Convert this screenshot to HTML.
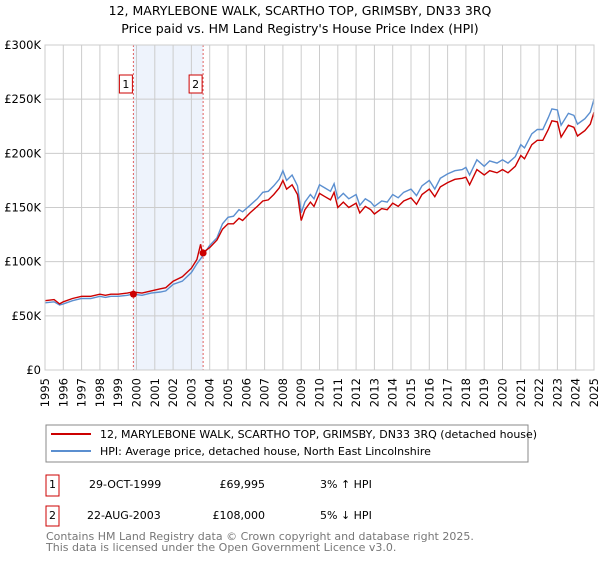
<!DOCTYPE html>
<html><head><meta charset="utf-8"><style>
body{margin:0;background:#fff;font-family:"Liberation Sans","DejaVu Sans",sans-serif;}
svg text{font-family:"DejaVu Sans","Liberation Sans",sans-serif;}
</style></head><body>
<svg id="c" width="600" height="560" xmlns="http://www.w3.org/2000/svg">
<text x="300" y="15" text-anchor="middle" font-size="12.5">12, MARYLEBONE WALK, SCARTHO TOP, GRIMSBY, DN33 3RQ</text>
<text x="300" y="33" text-anchor="middle" font-size="12.5">Price paid vs. HM Land Registry's House Price Index (HPI)</text>
<g id="plot"></g>
<rect x="46" y="425" width="482" height="37" fill="#fff" stroke="#888"/>
<line x1="51" y1="434" x2="91" y2="434" stroke="#cc0000" stroke-width="2"/>
<text x="100" y="438" font-size="11">12, MARYLEBONE WALK, SCARTHO TOP, GRIMSBY, DN33 3RQ (detached house)</text>
<line x1="51" y1="451" x2="91" y2="451" stroke="#5b8fd0" stroke-width="2"/>
<text x="100" y="455" font-size="11">HPI: Average price, detached house, North East Lincolnshire</text>
<g font-size="11">
<rect x="46" y="475" width="13" height="21" fill="none" stroke="#cc0000"/>
<text x="52.5" y="488" text-anchor="middle">1</text>
<text x="89" y="488">29-OCT-1999</text>
<text x="265" y="488" text-anchor="end">£69,995</text>
<text x="320" y="488">3% ↑ HPI</text>
<rect x="46" y="506" width="13" height="20" fill="none" stroke="#cc0000"/>
<text x="52.5" y="519" text-anchor="middle">2</text>
<text x="87" y="519">22-AUG-2003</text>
<text x="265" y="519" text-anchor="end">£108,000</text>
<text x="320" y="519">5% ↓ HPI</text>
</g>
<text x="46" y="540" font-size="11" fill="#777">Contains HM Land Registry data © Crown copyright and database right 2025.</text>
<text x="46" y="551" font-size="11" fill="#777">This data is licensed under the Open Government Licence v3.0.</text>
</svg>
<script>
const hpiT=[1995.0,1995.5,1995.8,1996.0,1996.5,1997,1997.5,1998,1998.3,1998.6,1999,1999.5,1999.8,2000.3,2000.8,2001.3,2001.6,2002,2002.5,2003,2003.3,2003.6,2004,2004.4,2004.7,2005,2005.3,2005.6,2005.8,2006.2,2006.6,2006.9,2007.2,2007.5,2007.8,2008.0,2008.2,2008.5,2008.8,2009.0,2009.2,2009.5,2009.7,2010.0,2010.3,2010.6,2010.8,2011.0,2011.3,2011.6,2012.0,2012.2,2012.5,2012.8,2013.0,2013.4,2013.7,2014.0,2014.3,2014.6,2015.0,2015.3,2015.6,2016.0,2016.3,2016.6,2017.0,2017.4,2017.8,2018.0,2018.2,2018.6,2019.0,2019.3,2019.7,2020.0,2020.3,2020.7,2021.0,2021.2,2021.6,2021.9,2022.2,2022.5,2022.7,2023.0,2023.2,2023.6,2023.9,2024.1,2024.5,2024.8,2025.0];
const hpiV=[62,63,60,61,64,66,66,68,67,68,68,69,70,69,71,72,73,79,82,90,98,105,115,122,135,141,142,148,146,152,158,164,165,170,176,184,175,180,170,145,155,162,158,171,168,165,172,158,163,158,162,152,158,155,151,156,155,162,159,164,167,161,170,175,167,177,181,184,185,187,180,194,188,193,191,194,191,197,208,205,218,222,222,233,241,240,226,237,235,227,232,238,250];
const redT=[1995.0,1995.5,1995.8,1996.0,1996.5,1997,1997.5,1998,1998.3,1998.6,1999,1999.5,1999.8,2000.3,2000.8,2001.3,2001.6,2002,2002.5,2003,2003.3,2003.5,2003.6,2004,2004.4,2004.7,2005,2005.3,2005.6,2005.8,2006.2,2006.6,2006.9,2007.2,2007.5,2007.8,2008.0,2008.2,2008.5,2008.8,2009.0,2009.2,2009.5,2009.7,2010.0,2010.3,2010.6,2010.8,2011.0,2011.3,2011.6,2012.0,2012.2,2012.5,2012.8,2013.0,2013.4,2013.7,2014.0,2014.3,2014.6,2015.0,2015.3,2015.6,2016.0,2016.3,2016.6,2017.0,2017.4,2017.8,2018.0,2018.2,2018.6,2019.0,2019.3,2019.7,2020.0,2020.3,2020.7,2021.0,2021.2,2021.6,2021.9,2022.2,2022.5,2022.7,2023.0,2023.2,2023.6,2023.9,2024.1,2024.5,2024.8,2025.0];
const redV=[64,65,61,63,66,68,68,70,69,70,70,71,72,71,73,75,76,82,86,94,102,116,108,113,120,130,135,135,140,138,145,151,156,157,162,168,175,167,171,162,138,148,155,151,163,160,157,164,150,155,150,154,145,151,148,144,149,148,154,151,156,159,153,162,167,160,169,173,176,177,178,171,185,180,184,182,185,182,188,198,195,208,212,212,222,230,229,215,226,224,216,221,227,238];
const sales=[[1999.83,69.995],[2003.64,108]];
const yTicks=[0,50,100,150,200,250,300];
const yLabels=["£0","£50K","£100K","£150K","£200K","£250K","£300K"];
const years=[1995,1996,1997,1998,1999,2000,2001,2002,2003,2004,2005,2006,2007,2008,2009,2010,2011,2012,2013,2014,2015,2016,2017,2018,2019,2020,2021,2022,2023,2024,2025];
const NS="http://www.w3.org/2000/svg";
const X=t=>45+(t-1995)*(594-45)/30;
const Y=v=>370-v*(370-45)/300;
const g=document.getElementById('plot');
function mk(tag,attrs,parent){const e=document.createElementNS(NS,tag);for(const k in attrs)e.setAttribute(k,attrs[k]);(parent||g).appendChild(e);return e;}
let r=mk('rect',{x:X(sales[0][0]),y:45,width:X(sales[1][0])-X(sales[0][0]),height:325,fill:'#eef3fc'});


years.forEach(yr=>{
 let l=mk('line',{x1:X(yr),x2:X(yr),y1:45,y2:370,stroke:'#cccccc'});
 
 
 let t=mk('text',{x:0,y:0,'font-size':11.5,'text-anchor':'end',transform:`translate(${X(yr)+4},378) rotate(-90)`});
 t.textContent=yr;
 
 
});
yTicks.forEach((v,i)=>{
 let l=mk('line',{x1:45,x2:594,y1:Y(v),y2:Y(v),stroke:'#cccccc'});
 
 
 let t=mk('text',{x:41,y:Y(v)+4,'font-size':11.5,'text-anchor':'end'});
 t.textContent=yLabels[i];
 
 
});
sales.forEach((s,i)=>{
 let l=mk('line',{x1:X(s[0]),x2:X(s[0]),y1:45,y2:370,stroke:'#e06060','stroke-dasharray':'2,2'});
 
 
 let b=mk('rect',{x:X(s[0])-14,y:75,width:13,height:18,fill:'#fff',stroke:'#cc0000'});
 
 
 let t=mk('text',{x:X(s[0])-7.5,y:88,'font-size':11,'text-anchor':'middle'});
 t.textContent=i+1;
 
 
});
function line(T,V,col,name){
 let d=T.map((t,i)=>(i?'L':'M')+X(t).toFixed(1)+','+Y(V[i]).toFixed(1)).join('');
 let p=mk('path',{d:d,fill:'none',stroke:col,'stroke-width':1.4});
 
 
}
line(hpiT,hpiV,'#5b8fd0','hpi-line');
line(redT,redV,'#cc0000','property-line');
sales.forEach((s,i)=>{
 let c=mk('circle',{cx:X(s[0]),cy:Y(s[1]),r:3.5,fill:'#cc0000'});
 
 
});
let ax=mk('rect',{x:45,y:45,width:549,height:325,fill:'none',stroke:'#cccccc'});


</script>
</body></html>
